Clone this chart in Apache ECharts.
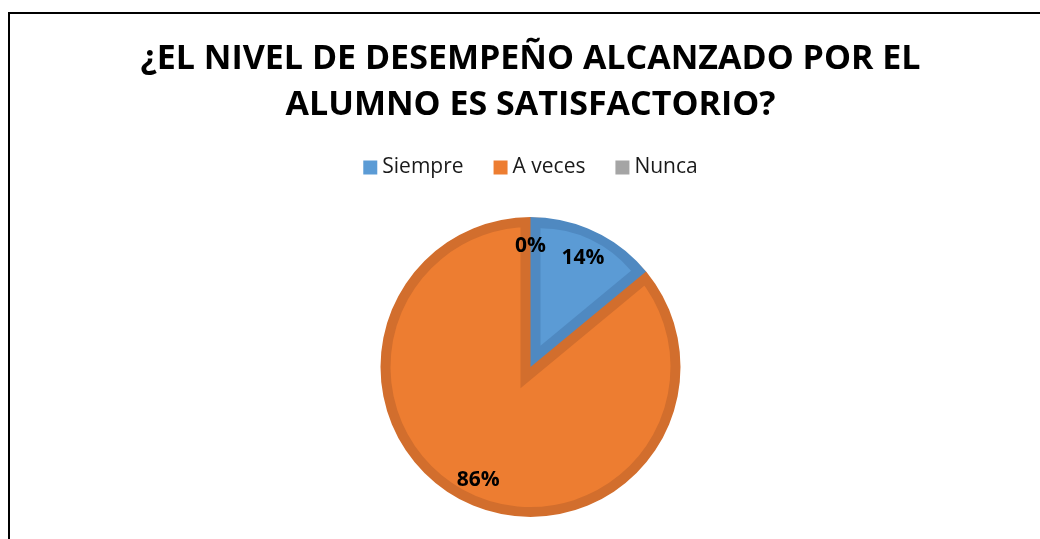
<!DOCTYPE html>
<html>
<head>
<meta charset="utf-8">
<title>Nivel de desempeño</title>
<script src="https://cdn.jsdelivr.net/npm/echarts@6/dist/echarts.min.js"></script>
<style>
  html, body { margin: 0; padding: 0; background: #fff; overflow: hidden; }
  #frame {
    position: absolute; left: 8px; top: 12px;
    width: 1041px; height: 560px;
    border: 2px solid #000;
  }
  #pieChart { width: 1041px; height: 560px; }
</style>
</head>
<body>
<div id="frame"><div id="pieChart"></div></div>
<script>
const titleText = "¿EL NIVEL DE DESEMPEÑO ALCANZADO POR EL\nALUMNO ES SATISFACTORIO?";
const categories = ["Siempre", "A veces", "Nunca"];
const values = [14, 86, 0];
const fillColors = ["#5B9BD5", "#ED7D31", "#A5A5A5"];
const edgeColors = ["#4F89C1", "#D26E2D", "#8C8C8C"];

const FONT = "Open Sans";
const CX = 520.5, CY = 353;   // pie centre inside the chart box
const R = 150;                // outer radius
const EDGE = 10;              // inset border width like the Excel slices
const clear = "rgba(0,0,0,0)";

let myChart = echarts.init(document.getElementById("pieChart"));
const total = values.reduce((a, b) => a + b, 0);

// base layer: every slice with a 20px stroke, 10px of it falls inside the slice
const baseData = categories.map((name, i) => ({
  name: name,
  value: values[i],
  itemStyle: {
    color: fillColors[i],
    borderColor: edgeColors[i],
    borderWidth: values[i] > 0 ? EDGE * 2 : 0,
    borderJoin: "miter"
  }
}));

// small slices (< half) are redrawn on top: dark wedge + inset fill wedge
const smallSeries = [];
let cum = 0;
categories.forEach((name, i) => {
  const v = values[i];
  if (v > 0 && v / total < 0.5) {
    const mid = (cum + v / 2) / total * 2 * Math.PI;
    const half = v / total * Math.PI;
    const shift = EDGE / Math.sin(half);
    const only = (color) => categories.map((n, j) => ({
      name: n, value: values[j],
      itemStyle: { color: j === i ? color : clear, borderWidth: 0 }
    }));
    smallSeries.push({
      type: "pie", silent: true, center: [CX, CY], radius: R,
      startAngle: 90, label: { show: false }, labelLine: { show: false },
      emphasis: { disabled: true }, data: only(edgeColors[i])
    });
    smallSeries.push({
      type: "pie", silent: true,
      center: [CX + shift * Math.sin(mid), CY - shift * Math.cos(mid)],
      radius: R - EDGE - shift + 1,
      startAngle: 90, label: { show: false }, labelLine: { show: false },
      emphasis: { disabled: true }, data: only(fillColors[i])
    });
  }
  cum += v;
});

myChart.setOption({
  animation: false,
  title: {
    text: titleText,
    left: "center",
    top: 17,
    textStyle: {
      fontFamily: FONT,
      fontWeight: "bold",
      fontSize: 34,
      lineHeight: 46,
      color: "#000"
    }
  },
  legend: {
    top: 138,
    left: "center",
    icon: "rect",
    itemWidth: 14,
    itemHeight: 14,
    itemGap: 30,
    selectedMode: false,
    itemStyle: { borderWidth: 0 },
    textStyle: { fontFamily: FONT, fontSize: 21, color: "#1a1a1a" },
    data: categories.map((n, i) => ({ name: n, itemStyle: { color: fillColors[i] } }))
  },
  series: [
    {
      type: "pie", silent: true, center: [CX, CY], radius: R,
      startAngle: 90, label: { show: false }, labelLine: { show: false },
      emphasis: { disabled: true }, data: baseData
    },
    ...smallSeries,
    {
      // trims the outer half of the base stroke
      type: "pie", silent: true, center: [CX, CY], radius: [R, R + 30],
      label: { show: false }, labelLine: { show: false },
      emphasis: { disabled: true },
      data: [{ value: 1, name: "_ring", itemStyle: { color: "#fff" } }]
    },
    {
      // labels only
      type: "pie", silent: true, center: [CX, CY + 2], radius: [90, R],
      startAngle: 90, percentPrecision: 0,
      emphasis: { disabled: true },
      itemStyle: { color: clear },
      label: {
        show: true,
        position: "inside",
        formatter: "{d}%",
        fontFamily: FONT,
        fontWeight: "bold",
        fontSize: 21,
        color: "#000"
      },
      labelLine: { show: false },
      data: categories.map((n, i) => ({ name: n, value: values[i] }))
    }
  ]
});
</script>
</body>
</html>
